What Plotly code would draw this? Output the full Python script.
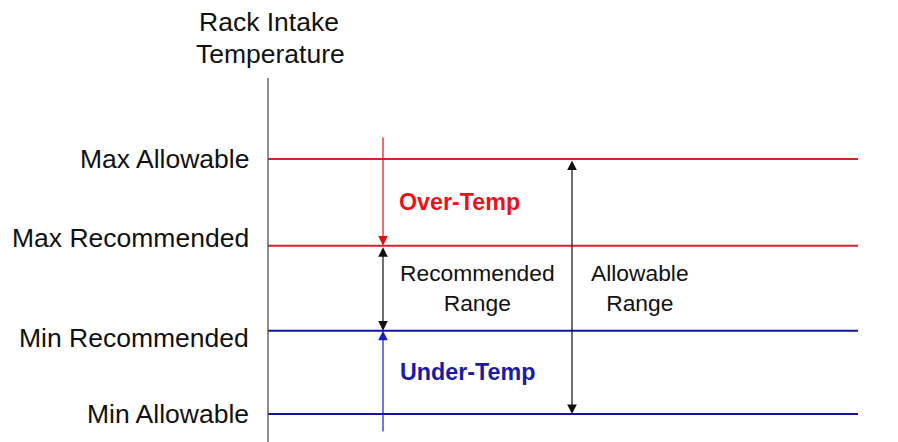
import plotly.graph_objects as go

# ---- data ----
level_names = ["Max Allowable", "Max Recommended", "Min Recommended", "Min Allowable"]
level_values = [4.0, 2.98, 1.98, 1.0]
axis_title_lines = ["Rack Intake", "Temperature"]
zone_labels = ["Over-Temp", "Recommended<br>Range", "Under-Temp", "Allowable<br>Range"]

# ---- style / layout constants ----
RED = "#d9202a"
RED_TXT = "#e8141b"
BLUE = "#14149c"
BLUE_TXT = "#1a1aa8"
FONT = "Liberation Sans, Arial, sans-serif"
level_colors = [RED, RED, BLUE, BLUE]
label_shift = [0, 8, -7, 0]
X0, X1 = 268, 858
XA = 383      # over/under arrow column
XB = 572      # allowable arrow column
Y_TOP_AXIS = 4.953
Y_TOP_ARROW = 4.27
Y_BOT_ARROW = 0.776
OFF = 8       # page body margin


def vy(py):
    return 1 + (414 - py) / 85


fig = go.Figure()

# horizontal threshold lines
for name, v, c in zip(level_names, level_values, level_colors):
    fig.add_trace(go.Scatter(x=[X0, X1], y=[v, v], mode="lines",
                             line=dict(color=c, width=2), hoverinfo="skip",
                             showlegend=False))

# vertical temperature axis
fig.add_trace(go.Scatter(x=[X0, X0], y=[Y_TOP_AXIS, 0.5], mode="lines",
                         line=dict(color="#404040", width=1.2), hoverinfo="skip",
                         showlegend=False))

annotations = []
# left level labels
for name, v, s in zip(level_names, level_values, label_shift):
    annotations.append(dict(x=251, y=v, xref="x", yref="y", text=name,
                            showarrow=False, xanchor="right", yanchor="middle",
                            yshift=s, font=dict(family=FONT, size=26.5, color="#111")))
# axis title
annotations.append(dict(x=269, y=vy(22), xref="x", yref="y",
                        text=axis_title_lines[0], showarrow=False,
                        font=dict(family=FONT, size=26.5, color="#111")))
annotations.append(dict(x=270, y=vy(54), xref="x", yref="y",
                        text=axis_title_lines[1], showarrow=False,
                        font=dict(family=FONT, size=26.5, color="#111")))

arrow_common = dict(xref="x", yref="y", axref="x", ayref="y", text="",
                    showarrow=True, arrowhead=2, arrowsize=1.6, arrowwidth=1.2)
# over-temp arrow (red, down)
annotations.append(dict(x=XA, y=level_values[1], ax=XA, ay=Y_TOP_ARROW,
                        arrowcolor="#e01010", **arrow_common))
# recommended range (black, double)
annotations.append(dict(x=XA, y=level_values[2], ax=XA, ay=level_values[1],
                        arrowcolor="#111", arrowside="end+start", **arrow_common))
# under-temp arrow (blue, up)
annotations.append(dict(x=XA, y=level_values[2], ax=XA, ay=Y_BOT_ARROW,
                        arrowcolor="#1a1acc", **arrow_common))
# allowable range (black, double)
annotations.append(dict(x=XB, y=level_values[3], ax=XB, ay=level_values[0],
                        arrowcolor="#111", arrowside="end+start", **arrow_common))

# zone labels
annotations.append(dict(x=459, y=(level_values[0] + level_values[1]) / 2, xref="x", yref="y",
                        text="<b>" + zone_labels[0] + "</b>", showarrow=False,
                        font=dict(family=FONT, size=23.3, color=RED_TXT)))
annotations.append(dict(x=477, y=(level_values[1] + level_values[2]) / 2, xref="x", yref="y",
                        text=zone_labels[1], showarrow=False,
                        font=dict(family=FONT, size=22.8, color="#111")))
annotations.append(dict(x=467, y=(level_values[2] + level_values[3]) / 2, xref="x", yref="y",
                        text="<b>" + zone_labels[2] + "</b>", showarrow=False,
                        font=dict(family=FONT, size=23.3, color=BLUE_TXT)))
annotations.append(dict(x=640, y=(level_values[1] + level_values[2]) / 2, xref="x", yref="y",
                        text=zone_labels[3], showarrow=False,
                        font=dict(family=FONT, size=22.8, color="#111")))

fig.update_layout(
    width=898 - OFF, height=442 - OFF,
    margin=dict(l=0, r=0, t=0, b=0),
    paper_bgcolor="white", plot_bgcolor="white",
    xaxis=dict(range=[OFF, 898], visible=False, fixedrange=True),
    yaxis=dict(range=[vy(442), vy(OFF)], visible=False, fixedrange=True),
    annotations=annotations,
    showlegend=False,
)

fig.write_html("out.html", config={"displayModeBar": False})
